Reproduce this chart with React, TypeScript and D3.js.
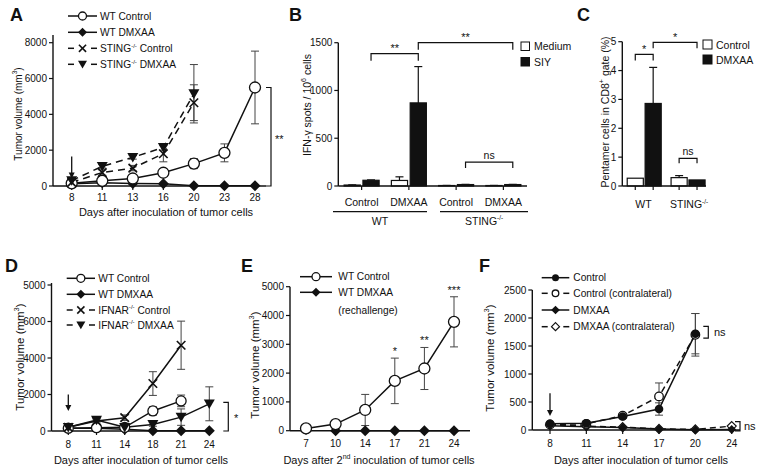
import React from 'react';
import * as d3 from 'd3';

const FONT = '"Liberation Sans", Arial, Helvetica, sans-serif';
const INK = '#111';
const ERR = '#444';

// ---------- Panel A ----------
const aDays = [8, 11, 13, 16, 20, 23, 28];
const aWtControl = [150, 290, 420, 740, 1250, 1850, 5500];
const aWtControlErr = [30, 50, 60, 100, 280, 500, 2030];
const aWtDmxaa = [130, 180, 140, 120, 20, 20, 20];
const aStingDays = [8, 11, 13, 16, 20];
const aStingControl = [200, 750, 1000, 1800, 4650];
const aStingControlErr = [50, 150, 150, 450, 1000];
const aStingDmxaa = [300, 1100, 1600, 2150, 5150];
const aStingDmxaaErr = [50, 100, 100, 150, 1630];
const aYTicks = [0, 2000, 4000, 6000, 8000];
const aYTickLabels = ['0', '2000', '4000', '6000', '8000'];

// ---------- Panel B ----------
const bGroups = ['WT Control', 'WT DMXAA', 'STING Control', 'STING DMXAA'];
const bGroupLabels = ['Control', 'DMXAA', 'Control', 'DMXAA'];
const bMedium = [10, 58, 5, 5];
const bMediumErr = [2, 38, 1, 1];
const bSiy = [60, 870, 15, 15];
const bSiyErr = [4, 380, 2, 2];
const bYTicks = [0, 500, 1000, 1500];

// ---------- Panel C ----------
const cGroups = ['WT', 'STING'];
const cControl = [0.27, 0.29];
const cControlErr = [0, 0.07];
const cDmxaa = [2.86, 0.21];
const cDmxaaErr = [1.25, 0];
const cYTicks = [0, 1, 2, 3, 4, 5];

// ---------- Panel D ----------
const dDays = [8, 11, 14, 18, 21, 24];
const dWtDays = [8, 11, 14, 18, 21];
const dWtControl = [150, 180, 200, 1100, 1650];
const dWtControlErr = [30, 40, 40, 230, 320];
const dWtDmxaa = [150, 150, 100, 20, 20, 20];
const dIfnarControl = [200, 550, 730, 2600, 4700];
const dIfnarControlErr = [50, 100, 150, 650, 1320];
const dIfnarDmxaa = [200, 600, 200, 360, 760, 1490];
const dIfnarDmxaaErr = [30, 80, 60, 100, 450, 930];
const dYTicks = [0, 2000, 4000, 6000, 8000];
const dYTickLabels = ['0', '2000', '4000', '6000', '5000'];

// ---------- Panel E ----------
const eDays = [7, 10, 14, 17, 21, 24];
const eWtControl = [80, 230, 720, 1730, 2160, 3780];
const eWtControlErr = [20, 50, 540, 790, 730, 870];
const eDmxaaDays = [10, 14, 17, 21, 24];
const eWtDmxaa = [0, 0, 0, 0, 0];
const eStars = ['', '', '', '*', '**', '***'];
const eYTicks = [0, 1000, 2000, 3000, 4000, 5000];

// ---------- Panel F ----------
const fDays = [8, 11, 14, 17, 20, 24];
const fCtrlDays = [8, 11, 14, 17, 20];
const fControl = [110, 120, 240, 375, 1720];
const fControlErr = [20, 20, 30, 110, 360];
const fControlContra = [100, 110, 256, 600, 1700];
const fControlContraErr = [20, 20, 30, 240, 380];
const fDmxaa = [75, 60, 45, 18, 5, 10];
const fDmxaaContra = [90, 70, 50, 20, 10, 70];
const fYTicks = [0, 500, 1000, 1500, 2000, 2500];

type Kind = 'circleOpen' | 'circleFilled' | 'diamond' | 'diamondOpen' | 'triDown' | 'cross';

function Marker({ kind, x, y, s }: { kind: Kind; x: number; y: number; s: number }) {
  switch (kind) {
    case 'circleOpen':
      return <circle cx={x} cy={y} r={s} fill="#fff" stroke={INK} strokeWidth={1.3} />;
    case 'circleFilled':
      return <circle cx={x} cy={y} r={s} fill={INK} />;
    case 'diamond':
      return <path d={`M${x},${y - s}L${x + s},${y}L${x},${y + s}L${x - s},${y}Z`} fill={INK} />;
    case 'diamondOpen':
      return <path d={`M${x},${y - s}L${x + s},${y}L${x},${y + s}L${x - s},${y}Z`} fill="#fff" stroke={INK} strokeWidth={1.2} />;
    case 'triDown':
      return <path d={`M${x - s},${y - s * 0.8}L${x + s},${y - s * 0.8}L${x},${y + s * 0.95}Z`} fill={INK} />;
    case 'cross':
      return (
        <g stroke={INK} strokeWidth={1.6}>
          <line x1={x - s * 0.85} y1={y - s * 0.85} x2={x + s * 0.85} y2={y + s * 0.85} />
          <line x1={x - s * 0.85} y1={y + s * 0.85} x2={x + s * 0.85} y2={y - s * 0.85} />
        </g>
      );
  }
  return null;
}

type Series = {
  days: number[];
  values: number[];
  errs?: number[];
  kind: Kind;
  dash?: string;
  size: number;
};

type PS = d3.ScalePoint<number>;
type LS = d3.ScaleLinear<number, number>;

function SeriesLayer({ xs, ys, series }: { xs: PS; ys: LS; series: Series[] }) {
  const line = d3.line<[number, number]>().x((d) => xs(d[0])!).y((d) => ys(d[1]));
  return (
    <g>
      {series.map((s, i) =>
        s.errs ? (
          <g key={'e' + i} stroke={ERR} strokeWidth={1}>
            {s.days.map((d, j) => {
              const x = xs(d)!;
              const e = s.errs![j];
              if (!e) return null;
              const y1 = ys(s.values[j] + e);
              const y2 = ys(Math.max(0, s.values[j] - e));
              return (
                <g key={j}>
                  <line x1={x} x2={x} y1={y1} y2={y2} />
                  <line x1={x - 4} x2={x + 4} y1={y1} y2={y1} />
                  <line x1={x - 4} x2={x + 4} y1={y2} y2={y2} />
                </g>
              );
            })}
          </g>
        ) : null
      )}
      {series.map((s, i) => (
        <path
          key={'l' + i}
          d={line(s.days.map((d, j) => [d, s.values[j]] as [number, number])) || ''}
          fill="none"
          stroke={INK}
          strokeWidth={1.5}
          strokeDasharray={s.dash}
        />
      ))}
      {series.map((s, i) => (
        <g key={'m' + i}>
          {s.days.map((d, j) => (
            <Marker key={j} kind={s.kind} x={xs(d)!} y={ys(s.values[j])} s={s.size} />
          ))}
        </g>
      ))}
    </g>
  );
}

function YAxis({ x, ys, ticks, labels, top, fs = 10 }: { x: number; ys: LS; ticks: number[]; labels?: string[]; top: number; fs?: number }) {
  const y0 = ys(0);
  return (
    <g>
      <line x1={x} x2={x} y1={y0} y2={top} stroke={INK} strokeWidth={1.4} />
      {ticks.map((t, i) => (
        <g key={i}>
          <line x1={x - 4} x2={x} y1={ys(t)} y2={ys(t)} stroke={INK} strokeWidth={1.2} />
          <text x={x - 6} y={ys(t)} textAnchor="end" dominantBaseline="central" fontSize={fs} fill={INK}>
            {labels ? labels[i] : String(t)}
          </text>
        </g>
      ))}
    </g>
  );
}

function XPointAxis({ xs, y0, x0, x1, dy, fs = 10 }: { xs: PS; y0: number; x0: number; x1: number; dy: number; fs?: number }) {
  return (
    <g>
      <line x1={x0} x2={x1} y1={y0} y2={y0} stroke={INK} strokeWidth={1.6} />
      {xs.domain().map((d) => (
        <g key={d}>
          <line x1={xs(d)!} x2={xs(d)!} y1={y0} y2={y0 + 4} stroke={INK} strokeWidth={1.2} />
          <text x={xs(d)!} y={y0 + dy} textAnchor="middle" dominantBaseline="central" fontSize={fs} fill={INK}>
            {d}
          </text>
        </g>
      ))}
    </g>
  );
}

function Arrow({ x, y1, y2 }: { x: number; y1: number; y2: number }) {
  return (
    <g>
      <line x1={x} x2={x} y1={y1} y2={y2 - 5} stroke={INK} strokeWidth={1.3} />
      <path d={`M${x - 3},${y2 - 6}L${x + 3},${y2 - 6}L${x},${y2}Z`} fill={INK} />
    </g>
  );
}

function VBracket({ x, y1, y2, label, lx, ly, fs = 11 }: { x: number; y1: number; y2: number; label: string; lx: number; ly: number; fs?: number }) {
  return (
    <g>
      <path d={`M${x - 5},${y1}H${x}V${y2}H${x - 5}`} fill="none" stroke={INK} strokeWidth={1.2} />
      <text x={lx} y={ly} fontSize={fs} dominantBaseline="central" fill={INK}>
        {label}
      </text>
    </g>
  );
}

function HBracket({ x1, x2, y, leg, label, ly, fs = 11 }: { x1: number; x2: number; y: number; leg: number; label: string; ly: number; fs?: number }) {
  return (
    <g>
      <path d={`M${x1},${y + leg}V${y}H${x2}V${y + leg}`} fill="none" stroke={INK} strokeWidth={1.2} />
      <text x={(x1 + x2) / 2} y={ly} fontSize={fs} textAnchor="middle" fill={INK}>
        {label}
      </text>
    </g>
  );
}

function LegendRow({ x0, x1, y, kind, s, dashed, text, fs = 10.2, tx }: { x0: number; x1: number; y: number; kind: Kind; s: number; dashed?: boolean; text: React.ReactNode; fs?: number; tx: number }) {
  const mx = (x0 + x1) / 2;
  return (
    <g>
      {dashed ? (
        <g stroke={INK} strokeWidth={1.5}>
          <line x1={x0} x2={x0 + 6} y1={y} y2={y} />
          <line x1={x1 - 6} x2={x1} y1={y} y2={y} />
        </g>
      ) : (
        <line x1={x0} x2={x1} y1={y} y2={y} stroke={INK} strokeWidth={1.5} />
      )}
      <Marker kind={kind} x={mx} y={y} s={s} />
      <text x={tx} y={y} fontSize={fs} dominantBaseline="central" fill={INK}>
        {text}
      </text>
    </g>
  );
}

const KO = (base: string, rest: string, fs: number) => (
  <>
    {base}
    <tspan fontSize={fs * 0.6} dy={-fs * 0.35}>
      -/-
    </tspan>
    <tspan dy={fs * 0.35}>{rest}</tspan>
  </>
);

function YTitle({ x, y, fs, children }: { x: number; y: number; fs: number; children: React.ReactNode }) {
  return (
    <text transform={`translate(${x},${y}) rotate(-90)`} textAnchor="middle" dominantBaseline="central" fontSize={fs} fill={INK}>
      {children}
    </text>
  );
}

const mm3 = (fs: number) => (
  <>
    Tumor volume (mm
    <tspan fontSize={fs * 0.65} dy={-fs * 0.38}>
      3
    </tspan>
    <tspan dy={fs * 0.38}>)</tspan>
  </>
);

function PanelLetter({ x, y, t }: { x: number; y: number; t: string }) {
  return (
    <text x={x} y={y} fontSize={18} fontWeight="bold" fill={INK}>
      {t}
    </text>
  );
}

function PanelA() {
  const xs = d3.scalePoint<number>().domain(aDays).range([71.7, 255]);
  const ys = d3.scaleLinear().domain([0, 8000]).range([186, 42.7]);
  const series: Series[] = [
    { days: aDays, values: aWtDmxaa, kind: 'diamond', size: 5.5 },
    { days: aDays, values: aWtControl, errs: aWtControlErr, kind: 'circleOpen', size: 5.5 },
    { days: aStingDays, values: aStingControl, errs: aStingControlErr, kind: 'cross', size: 5, dash: '7,5' },
    { days: aStingDays, values: aStingDmxaa, errs: aStingDmxaaErr, kind: 'triDown', size: 5.5, dash: '7,5' },
  ];
  return (
    <g>
      <PanelLetter x={10} y={21} t="A" />
      <YAxis x={53} ys={ys} ticks={aYTicks} labels={aYTickLabels} top={35} />
      <XPointAxis xs={xs} y0={186} x0={53} x1={266} dy={11} />
      <SeriesLayer xs={xs} ys={ys} series={series} />
      <Arrow x={xs(8)!} y1={ys(1650)} y2={ys(420)} />
      <VBracket x={271} y1={ys(5500)} y2={ys(0)} label="**" lx={275} ly={ys(2600)} />
      <text x={166} y={212} textAnchor="middle" dominantBaseline="central" fontSize={11} fill={INK}>
        Days after inoculation of tumor cells
      </text>
      <YTitle x={18} y={114} fs={10}>{mm3(10)}</YTitle>
      <LegendRow x0={68} x1={97} y={16} kind="circleOpen" s={4} text="WT Control" tx={100} />
      <LegendRow x0={68} x1={97} y={32.3} kind="diamond" s={4.5} text="WT DMXAA" tx={100} />
      <LegendRow x0={68} x1={97} y={48.3} kind="cross" s={4.2} dashed text={KO('STING', ' Control', 10.2)} tx={100} />
      <LegendRow x0={68} x1={97} y={64.3} kind="triDown" s={4.5} dashed text={KO('STING', ' DMXAA', 10.2)} tx={100} />
    </g>
  );
}

function PanelB() {
  const xs = d3.scaleBand<string>().domain(bGroups).range([338, 527]);
  const inner = d3.scaleBand<string>().domain(['Medium', 'SIY']).range([-17.5, 17.5]).paddingInner(0.14);
  const ys = d3.scaleLinear().domain([0, 1500]).range([186, 42.7]);
  const c = (g: string) => xs(g)! + xs.bandwidth() / 2;
  const bw = inner.bandwidth();
  const siyC = (i: number) => c(bGroups[i]) + inner('SIY')! + bw / 2;
  return (
    <g>
      <PanelLetter x={289} y={21} t="B" />
      {bGroups.map((g, i) => (
        <g key={g}>
          {[
            { k: 'Medium', v: bMedium[i], e: bMediumErr[i], fill: '#fff' },
            { k: 'SIY', v: bSiy[i], e: bSiyErr[i], fill: INK },
          ].map((b) => {
            const x = c(g) + inner(b.k)!;
            return (
              <g key={b.k}>
                <line x1={x + bw / 2} x2={x + bw / 2} y1={ys(b.v)} y2={ys(b.v + b.e)} stroke={INK} strokeWidth={1.2} />
                <line x1={x + bw / 2 - 4} x2={x + bw / 2 + 4} y1={ys(b.v + b.e)} y2={ys(b.v + b.e)} stroke={INK} strokeWidth={1.2} />
                <rect x={x} y={ys(b.v)} width={bw} height={ys(0) - ys(b.v)} fill={b.fill} stroke={INK} strokeWidth={1.2} />
              </g>
            );
          })}
        </g>
      ))}
      <YAxis x={338.3} ys={ys} ticks={bYTicks} top={42.7} />
      <line x1={338.3} x2={527} y1={186} y2={186} stroke={INK} strokeWidth={1.6} />
      {bGroups.map((g, i) => (
        <g key={g}>
          <line x1={c(g)} x2={c(g)} y1={186} y2={190} stroke={INK} strokeWidth={1.2} />
          <text x={c(g)} y={202} textAnchor="middle" dominantBaseline="central" fontSize={10.5} fill={INK}>
            {bGroupLabels[i]}
          </text>
        </g>
      ))}
      <line x1={333} x2={427} y1={211.7} y2={211.7} stroke={INK} strokeWidth={1.2} />
      <line x1={440} x2={528} y1={211.7} y2={211.7} stroke={INK} strokeWidth={1.2} />
      <text x={380} y={221} textAnchor="middle" dominantBaseline="central" fontSize={10.5} fill={INK}>WT</text>
      <text x={484} y={221} textAnchor="middle" dominantBaseline="central" fontSize={10.5} fill={INK}>{KO('STING', '', 10.5)}</text>
      <HBracket x1={siyC(0)} x2={siyC(1)} y={ys(1385)} leg={7} label="**" ly={ys(1385) - 2} />
      <HBracket x1={siyC(1)} x2={siyC(3)} y={ys(1500)} leg={7} label="**" ly={ys(1500) - 2} />
      <HBracket x1={siyC(2)} x2={siyC(3)} y={ys(250)} leg={6} label="ns" ly={ys(250) - 3} fs={10.5} />
      <YTitle x={307} y={105} fs={10.5}>
        IFN-γ spots / 10
        <tspan fontSize={7} dy={-4}>6</tspan>
        <tspan dy={4}> cells</tspan>
      </YTitle>
      <rect x={521} y={42} width={8.5} height={8.5} fill="#fff" stroke={INK} strokeWidth={1} />
      <text x={534} y={46.3} fontSize={10.5} dominantBaseline="central" fill={INK}>Medium</text>
      <rect x={521} y={57.5} width={8.5} height={8.5} fill={INK} stroke={INK} strokeWidth={1} />
      <text x={534} y={61.7} fontSize={10.5} dominantBaseline="central" fill={INK}>SIY</text>
    </g>
  );
}

function PanelC() {
  const xs = d3.scaleBand<string>().domain(cGroups).range([622.3, 710]);
  const inner = d3.scaleBand<string>().domain(['Control', 'DMXAA']).range([-17, 17]).paddingInner(0.1);
  const ys = d3.scaleLinear().domain([0, 5]).range([186, 41.7]);
  const c = (g: string) => xs(g)! + xs.bandwidth() / 2;
  const bw = inner.bandwidth();
  const bc = (i: number, k: string) => c(cGroups[i]) + inner(k)! + bw / 2;
  return (
    <g>
      <PanelLetter x={577} y={21} t="C" />
      {cGroups.map((g, i) => (
        <g key={g}>
          {[
            { k: 'Control', v: cControl[i], e: cControlErr[i], fill: '#fff' },
            { k: 'DMXAA', v: cDmxaa[i], e: cDmxaaErr[i], fill: INK },
          ].map((b) => {
            const x = c(g) + inner(b.k)!;
            return (
              <g key={b.k}>
                {b.e ? (
                  <g stroke={INK} strokeWidth={1.2}>
                    <line x1={x + bw / 2} x2={x + bw / 2} y1={ys(b.v)} y2={ys(b.v + b.e)} />
                    <line x1={x + bw / 2 - 4} x2={x + bw / 2 + 4} y1={ys(b.v + b.e)} y2={ys(b.v + b.e)} />
                  </g>
                ) : null}
                <rect x={x} y={ys(b.v)} width={bw} height={ys(0) - ys(b.v)} fill={b.fill} stroke={INK} strokeWidth={1.2} />
              </g>
            );
          })}
        </g>
      ))}
      <YAxis x={622.3} ys={ys} ticks={cYTicks} top={41.7} />
      <line x1={622.3} x2={706} y1={186} y2={186} stroke={INK} strokeWidth={1.6} />
      {cGroups.map((g, i) => (
        <g key={g}>
          {['Control', 'DMXAA'].map((k) => (
            <line key={k} x1={bc(i, k)} x2={bc(i, k)} y1={186} y2={190} stroke={INK} strokeWidth={1.2} />
          ))}
        </g>
      ))}
      <text x={643.5} y={204.3} textAnchor="middle" dominantBaseline="central" fontSize={10.5} fill={INK}>WT</text>
      <text x={689} y={204.3} textAnchor="middle" dominantBaseline="central" fontSize={10.5} fill={INK}>{KO('STING', '', 10.5)}</text>
      <HBracket x1={bc(0, 'Control')} x2={bc(0, 'DMXAA')} y={ys(4.56)} leg={6} label="*" ly={ys(4.56) - 1} />
      <HBracket x1={bc(0, 'DMXAA')} x2={bc(1, 'DMXAA')} y={ys(4.98)} leg={6} label="*" ly={ys(4.98) - 1} />
      <HBracket x1={bc(1, 'Control')} x2={bc(1, 'DMXAA')} y={ys(0.96)} leg={5} label="ns" ly={ys(0.96) - 3} fs={10.5} />
      <YTitle x={605} y={112} fs={10.5}>
        Pentamer cells in CD8
        <tspan fontSize={7} dy={-4}>+</tspan>
        <tspan dy={4}> gate (%)</tspan>
      </YTitle>
      <rect x={703} y={40} width={9} height={9} fill="#fff" stroke={INK} strokeWidth={1} />
      <text x={716} y={44.8} fontSize={10.5} dominantBaseline="central" fill={INK}>Control</text>
      <rect x={703} y={55} width={9} height={9} fill={INK} stroke={INK} strokeWidth={1} />
      <text x={716} y={60} fontSize={10.5} dominantBaseline="central" fill={INK}>DMXAA</text>
    </g>
  );
}

function PanelD() {
  const xs = d3.scalePoint<number>().domain(dDays).range([68.3, 209.3]);
  const ys = d3.scaleLinear().domain([0, 8000]).range([431, 285]);
  const series: Series[] = [
    { days: dDays, values: dWtDmxaa, kind: 'diamond', size: 5.5 },
    { days: dWtDays, values: dWtControl, errs: dWtControlErr, kind: 'circleOpen', size: 5 },
    { days: dWtDays, values: dIfnarControl, errs: dIfnarControlErr, kind: 'cross', size: 5 },
    { days: dDays, values: dIfnarDmxaa, errs: dIfnarDmxaaErr, kind: 'triDown', size: 5.5 },
  ];
  return (
    <g>
      <PanelLetter x={5} y={272} t="D" />
      <YAxis x={51.5} ys={ys} ticks={dYTicks} labels={dYTickLabels} top={283} />
      <XPointAxis xs={xs} y0={431} x0={51.5} x1={213} dy={13} />
      <SeriesLayer xs={xs} ys={ys} series={series} />
      <Arrow x={xs(8)!} y1={ys(2000)} y2={ys(1100)} />
      <VBracket x={228.3} y1={ys(1570)} y2={ys(0)} label="*" lx={234} ly={ys(700)} />
      <text x={141} y={460} textAnchor="middle" dominantBaseline="central" fontSize={11} fill={INK}>
        Days after inoculation of tumor cells
      </text>
      <YTitle x={20} y={357} fs={11.5}>{mm3(11.5)}</YTitle>
      <LegendRow x0={66.7} x1={95} y={278.3} kind="circleOpen" s={4} text="WT Control" tx={98.3} />
      <LegendRow x0={66.7} x1={95} y={294.3} kind="diamond" s={4.5} text="WT DMXAA" tx={98.3} />
      <LegendRow x0={66.7} x1={95} y={310} kind="cross" s={4.2} dashed text={KO('IFNAR', ' Control', 10.2)} tx={98.3} />
      <LegendRow x0={66.7} x1={95} y={325} kind="triDown" s={4.5} dashed text={KO('IFNAR', ' DMXAA', 10.2)} tx={98.3} />
    </g>
  );
}

function PanelE() {
  const xs = d3.scalePoint<number>().domain(eDays).range([306, 454]);
  const ys = d3.scaleLinear().domain([0, 5000]).range([430.7, 286.7]);
  const series: Series[] = [
    { days: eDmxaaDays, values: eWtDmxaa, kind: 'diamond', size: 5.5 },
    { days: eDays, values: eWtControl, errs: eWtControlErr, kind: 'circleOpen', size: 5.5 },
  ];
  return (
    <g>
      <PanelLetter x={241} y={272} t="E" />
      <YAxis x={290} ys={ys} ticks={eYTicks} top={286.7} />
      <XPointAxis xs={xs} y0={430.7} x0={290} x1={470} dy={13} />
      <SeriesLayer xs={xs} ys={ys} series={series} />
      {eDays.map((d, i) =>
        eStars[i] ? (
          <text key={d} x={xs(d)!} y={ys(eWtControl[i] + eWtControlErr[i]) - 3} textAnchor="middle" fontSize={11} fill={INK}>
            {eStars[i]}
          </text>
        ) : null
      )}
      <text x={379} y={460} textAnchor="middle" dominantBaseline="central" fontSize={11} fill={INK}>
        Days after  2
        <tspan fontSize={7} dy={-4}>nd</tspan>
        <tspan dy={4}> inoculation of tumor cells</tspan>
      </text>
      <YTitle x={255} y={365} fs={11.5}>{mm3(11.5)}</YTitle>
      <LegendRow x0={300} x1={332} y={276.7} kind="circleOpen" s={4} text="WT Control" tx={338.3} />
      <LegendRow x0={300} x1={332} y={292.3} kind="diamond" s={4.5} text="WT DMXAA" tx={338.3} />
      <text x={338.3} y={310} fontSize={10.2} dominantBaseline="central" fill={INK}>(rechallenge)</text>
    </g>
  );
}

function PanelF() {
  const xs = d3.scalePoint<number>().domain(fDays).range([550, 731.7]);
  const ys = d3.scaleLinear().domain([0, 2500]).range([430, 290]);
  const series: Series[] = [
    { days: fDays, values: fDmxaaContra, kind: 'diamondOpen', size: 4.5, dash: '6,4' },
    { days: fDays, values: fDmxaa, kind: 'diamond', size: 4.5 },
    { days: fCtrlDays, values: fControlContra, errs: fControlContraErr, kind: 'circleOpen', size: 4.3, dash: '6,4' },
    { days: fCtrlDays, values: fControl, errs: fControlErr, kind: 'circleFilled', size: 4.3 },
  ];
  return (
    <g>
      <PanelLetter x={479} y={272} t="F" />
      <YAxis x={532.3} ys={ys} ticks={fYTicks} top={290} />
      <XPointAxis xs={xs} y0={430} x0={532.3} x1={740} dy={13} />
      <SeriesLayer xs={xs} ys={ys} series={series} />
      <Arrow x={xs(8)!} y1={ys(655)} y2={ys(250)} />
      <VBracket x={708.3} y1={ys(1850)} y2={ys(1640)} label="ns" lx={714} ly={ys(1745)} fs={11} />
      <VBracket x={740} y1={ys(150)} y2={ys(-15)} label="ns" lx={744} ly={ys(70)} fs={11} />
      <text x={641} y={459.5} textAnchor="middle" dominantBaseline="central" fontSize={11} fill={INK}>
        Days after inoculation of tumor cells
      </text>
      <YTitle x={490} y={358} fs={11.5}>{mm3(11.5)}</YTitle>
      <LegendRow x0={541.7} x1={569.3} y={277.7} kind="circleFilled" s={3.5} text="Control" tx={573.3} />
      <LegendRow x0={541.7} x1={569.3} y={293.3} kind="circleOpen" s={3.3} dashed text="Control (contralateral)" tx={573.3} />
      <LegendRow x0={541.7} x1={569.3} y={310} kind="diamond" s={4.3} text="DMXAA" tx={573.3} />
      <LegendRow x0={541.7} x1={569.3} y={326.7} kind="diamondOpen" s={4} dashed text="DMXAA (contralateral)" tx={573.3} />
    </g>
  );
}

export default function App() {
  return (
    <div style={{ position: 'absolute', left: 0, top: 0, width: 762, height: 473, background: '#fff' }}>
      <svg width={762} height={473} viewBox="0 0 762 473" style={{ display: 'block', fontFamily: FONT }}>
        <rect width={762} height={473} fill="#fff" />
        <PanelA />
        <PanelB />
        <PanelC />
        <PanelD />
        <PanelE />
        <PanelF />
      </svg>
    </div>
  );
}
